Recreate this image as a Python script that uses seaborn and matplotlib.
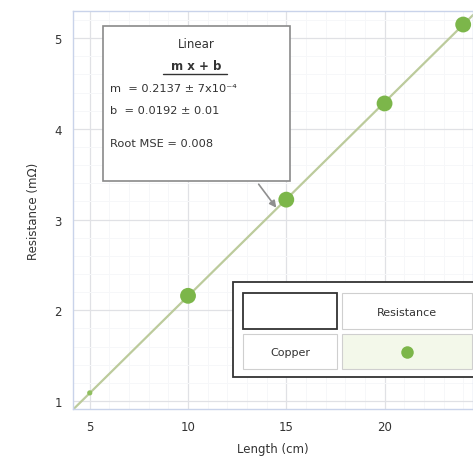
import matplotlib
matplotlib.use("Agg")
import matplotlib.pyplot as plt
import seaborn as sns
import pandas as pd
import numpy as np
from matplotlib.ticker import MultipleLocator
from matplotlib.patches import Rectangle, FancyArrowPatch

# Data
length_cm = [10, 15, 20, 24]
resistance = [2.16, 3.22, 4.28, 5.15]
small_x = [5]
small_y = [1.09]
slope = 0.2137
intercept = 0.0192
x_ticks = [5, 10, 15, 20]
y_ticks = [1, 2, 3, 4, 5]
fit_lines = ["Linear", "m  = 0.2137 ± 7x10⁻⁴", "b  = 0.0192 ± 0.01", "Root MSE = 0.008"]

sns.set_theme(style="white")
plt.rcParams['font.family'] = ['DejaVu Sans']

fig = plt.figure(figsize=(4.73, 4.77), dpi=100)
ax = fig.add_axes([0.154, 0.140, 0.846, 0.835])

xmin, xmax = 4.14, 24.5
ymin, ymax = 0.91, 5.30
ax.set_xlim(xmin, xmax)
ax.set_ylim(ymin, ymax)

# grid
ax.xaxis.set_minor_locator(MultipleLocator(1))
ax.yaxis.set_minor_locator(MultipleLocator(0.2))
ax.grid(which="minor", color="#f6f7f9", lw=0.7)
ax.grid(which="major", color="#e0e1e5", lw=0.9)
ax.set_axisbelow(True)
for s in ax.spines.values():
    s.set_color("#c9d3ea")
    s.set_linewidth(1.0)

# fit line
fx = np.array([xmin, xmax])
df_fit = pd.DataFrame({"x": fx, "y": slope * fx + intercept})
sns.lineplot(data=df_fit, x="x", y="y", ax=ax, color="#bccb9c", lw=1.6, zorder=2)

df = pd.DataFrame({"Length": length_cm, "Resistance": resistance})
sns.scatterplot(data=df, x="Length", y="Resistance", ax=ax, color="#7cb64a",
                s=130, edgecolor="none", zorder=4, clip_on=False)
df_s = pd.DataFrame({"x": small_x, "y": small_y})
sns.scatterplot(data=df_s, x="x", y="y", ax=ax, color="#8fbf5e",
                s=14, edgecolor="none", zorder=4)

ax.set_xticks(x_ticks)
ax.set_yticks(y_ticks)
ax.tick_params(axis="both", which="major", length=0, labelsize=8.5, colors="#333333", pad=8)
ax.tick_params(which="minor", length=0)
ax.set_xlabel("Length (cm)", fontsize=8.5, color="#333333", labelpad=6)
ax.set_ylabel("Resistance (mΩ)", fontsize=8.5, color="#333333", labelpad=10)

# annotation box
bx0, by0, bx1, by1 = 103 / 473, 1 - 182 / 477, 290 / 473, 1 - 27 / 477
box = Rectangle((bx0, by0), bx1 - bx0, by1 - by0, transform=fig.transFigure,
                facecolor="white", edgecolor="#8a8a8a", lw=1.2, zorder=5)
fig.patches.append(box)
cx = (bx0 + bx1) / 2
fig.text(cx, 1 - 44 / 477, fit_lines[0], ha="center", va="center", fontsize=8.5,
         color="#333333", zorder=10)
fig.text(cx, 1 - 66 / 477, "m x + b", ha="center", va="center", fontsize=8.5,
         color="#333333", fontweight="bold", zorder=10)
fig.add_artist(plt.Line2D([163 / 473, 227 / 473], [1 - 75 / 477, 1 - 75 / 477],
                          color="#333333", lw=1.0, transform=fig.transFigure, zorder=10))
fig.text(110 / 473, 1 - 89 / 477, fit_lines[1], ha="left", va="center", fontsize=8.2,
         color="#333333", zorder=10)
fig.text(110 / 473, 1 - 111 / 477, fit_lines[2], ha="left", va="center", fontsize=8.2,
         color="#333333", zorder=10)
fig.text(110 / 473, 1 - 144 / 477, fit_lines[3], ha="left", va="center", fontsize=8.2,
         color="#333333", zorder=10)

# arrow from box toward the point at 15
fig.add_artist(FancyArrowPatch(
    (257 / 473, 1 - 183 / 477), (278 / 473, 1 - 211 / 477),
    transform=fig.transFigure, arrowstyle="-|>", mutation_scale=10,
    color="#8f8f8f", lw=1.2, zorder=6))

# legend table
def frect(x0, y0, x1, y1, fc, ec, lw):
    r = Rectangle((x0 / 473, 1 - y1 / 477), (x1 - x0) / 473, (y1 - y0) / 477,
                  transform=fig.transFigure, facecolor=fc, edgecolor=ec, lw=lw, zorder=5)
    fig.patches.append(r)

frect(233, 283, 475, 378, "white", "#333333", 1.3)
frect(243, 294, 337, 330, "white", "#333333", 1.3)
frect(342, 294, 472, 330, "white", "#cfcfcf", 0.8)
frect(243, 335, 337, 370, "white", "#cfcfcf", 0.8)
frect(342, 335, 472, 370, "#f3f8ea", "#cfcfcf", 0.8)
fig.text(407 / 473, 1 - 313 / 477, "Resistance", ha="center", va="center", fontsize=8,
         color="#333333", zorder=10)
fig.text(290 / 473, 1 - 353 / 477, "Copper", ha="center", va="center", fontsize=8,
         color="#333333", zorder=10)
fig.add_artist(plt.Line2D([407 / 473], [1 - 353 / 477], marker="o", markersize=9,
                          color="#7cb64a", markeredgewidth=0, transform=fig.transFigure,
                          zorder=10))

fig.savefig("out.png", dpi=100)
